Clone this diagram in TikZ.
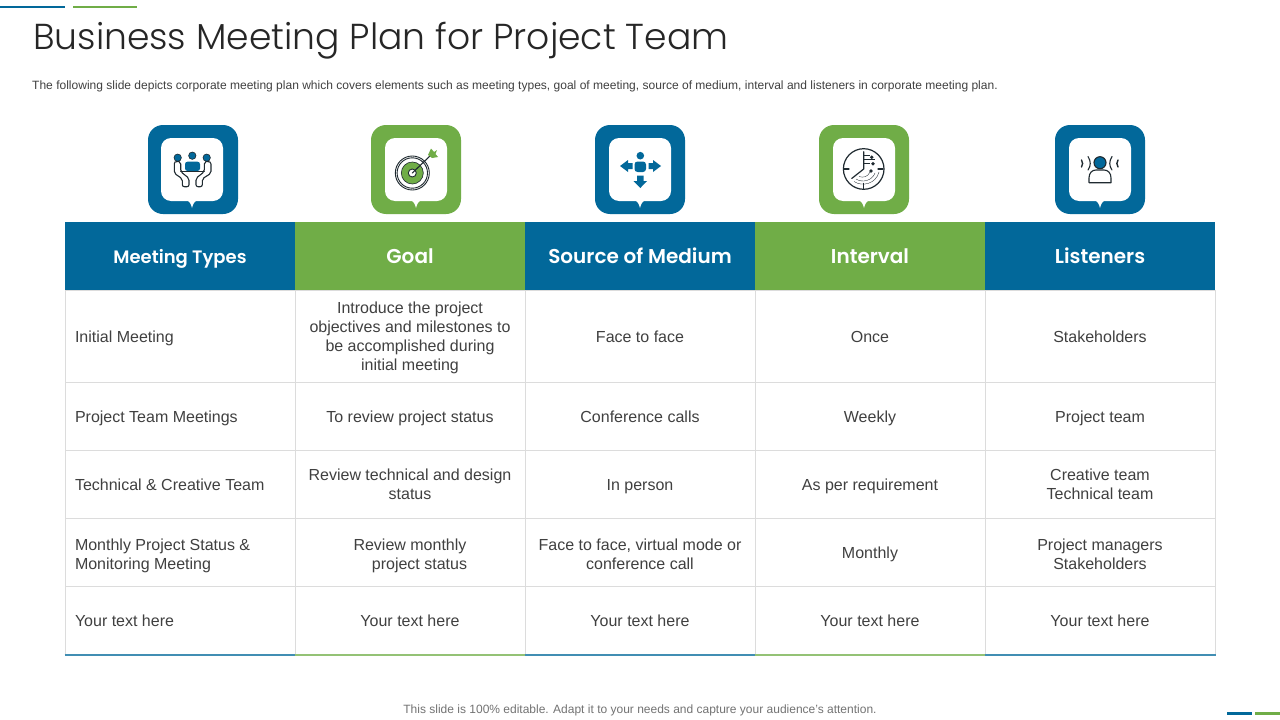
\documentclass[tikz,border=0pt]{standalone}
\usepackage{fontspec}
\setmainfont{Liberation Sans}
\newfontfamily\titlefont[UprightFont=* Light,Ligatures=NoCommon]{Poppins}
\newfontfamily\headfont[UprightFont=* SemiBold,Ligatures=NoCommon]{Poppins}
\definecolor{pblue}{HTML}{02689A}
\definecolor{pgreen}{HTML}{70AD47}
\definecolor{txt}{HTML}{404040}
\definecolor{gridc}{HTML}{DCDCDC}
\definecolor{ink}{HTML}{1F2A30}
\tikzset{
  x=1pt,y=-1pt,
  cellbase/.style={draw=gridc,line width=1pt,minimum width=230pt,inner sep=0pt,text=txt,text width=228pt,align=flush center,font=\fontsize{16}{19}\selectfont,execute at end node=\strut},
  cell/.style={cellbase,execute at begin node={\rule[-5.7pt]{0pt}{23pt}}},
  cellm/.style={cellbase,execute at begin node={\rule[-5.7pt]{0pt}{25.5pt}}},
  rowa/.style={cell,minimum height=92pt},
  rowb/.style={cell,minimum height=68pt},
  rowd/.style={cellm,minimum height=68pt},
  lefttext/.style={text width=210pt,align=flush left},
  headcell/.style={minimum width=230pt,minimum height=68pt,inner sep=0pt,text=white,text height=17.5pt,text depth=2.5pt,font=\headfont\fontsize{20}{24}\selectfont},
  hblue/.style={headcell,fill=pblue},
  hgreen/.style={headcell,fill=pgreen},
  iconline/.style={draw=ink,line width=1.1pt,line join=round,line cap=round},
  thinline/.style={draw=ink,line width=.6pt},
}
\newcommand{\bubble}[3]{%
  \fill[#3,rounded corners=15pt] (#1-45,125) rectangle (#1+45,214);
  \fill[white,rounded corners=10pt] (#2-31,138) rectangle (#2+31,201);
  \fill[white] (#2-5,200) .. controls (#2-2.5,201) and (#2-1,204) .. (#2,208) .. controls (#2+1,204) and (#2+2.5,201) .. (#2+5,200) -- cycle;
}
\begin{document}
\begin{tikzpicture}
\useasboundingbox[fill=white] (0,0) rectangle (1280,720);
% accent bars
\fill[pblue] (0,6) rectangle (65,8);
\fill[pgreen] (73,6) rectangle (137,8);
\fill[pblue] (1227,712) rectangle (1252,715);
\fill[pgreen] (1255,712) rectangle (1280,715);
% title
\node[anchor=west,inner sep=0pt,text=black!85] (title) at (33,41) {\titlefont\fontsize{36.1}{44}\selectfont Business Meeting Plan for Project Team};
\node[anchor=west,inner sep=0pt,text=txt] (sub) at (32,86) {\fontsize{12.03}{14}\selectfont The following slide depicts corporate meeting plan which covers elements such as meeting types, goal of meeting, source of medium, interval and listeners in corporate meeting plan.};
% bubbles
\bubble{193}{192}{pblue}
\bubble{416}{416}{pgreen}
\bubble{640}{640}{pblue}
\bubble{864}{864}{pgreen}
\bubble{1100}{1100}{pblue}
% icon 1: meeting
\fill[pblue] (177.7,157.7) circle (3.7) (192.3,155.7) circle (3.7) (206.7,157.7) circle (3.7);
\draw[thinline] (177.7,157.7) circle (3.7) (192.3,155.7) circle (3.7) (206.7,157.7) circle (3.7);
\fill[pblue,rounded corners=2.5pt] (185,171) -- (185,161.7) -- (200,161.7) -- (200,171) -- cycle;
\draw[iconline] (180.7,171.5) -- (204.3,171.5);
\draw[iconline,rounded corners=2pt] (180.7,166) .. controls (180.7,163) and (178,161.5) .. (177,161.7) .. controls (175,162) and (174.3,164) .. (174.3,166) -- (174.3,173.3) -- (182.3,178.8) -- (182.3,186.7) -- (189,186.7) -- (189,178.3) -- (180.7,171.7) -- cycle;
\draw[iconline,rounded corners=2pt] (204.3,166) .. controls (204.3,163) and (207,161.5) .. (208,161.7) .. controls (210,162) and (211,164) .. (211,166) -- (211,173.3) -- (202.3,178.8) -- (202.3,186.7) -- (196,186.7) -- (196,178.3) -- (204.3,171.7) -- cycle;
% icon 2: target
\draw[thinline,line width=.9pt] (412.3,173) circle (17) (412.3,173) circle (15.2);
\fill[pgreen] (412.3,173) circle (11);
\draw[thinline] (412.3,173) circle (11);
\fill[white] (412.3,173) circle (4);
\draw[thinline,line width=.9pt] (412.3,173) circle (4);
\draw[iconline] (412.3,173) -- (431,155);
\fill[pgreen] (428,155) -- (431,148.5) -- (434,152) -- (437,150) -- (435.5,154) -- (438,157) -- (432,158) -- cycle;
% icon 3: directions
\fill[pblue] (640.3,155.7) circle (3.8);
\fill[pblue,rounded corners=3pt] (634.5,172) -- (634.5,161.5) -- (646,161.5) -- (646,172) -- cycle;
\fill[pblue] (620,166) -- (628,160) -- (628,163) -- (632.5,163) -- (632.5,169) -- (628,169) -- (628,172) -- cycle;
\fill[pblue] (661,166) -- (653,160) -- (653,163) -- (648.5,163) -- (648.5,169) -- (653,169) -- (653,172) -- cycle;
\fill[pblue] (640.3,188) -- (633.5,181) -- (637,181) -- (637,175.5) -- (643.6,175.5) -- (643.6,181) -- (647,181) -- cycle;
% icon 4: radar clock
\draw[iconline,line width=1.2pt] (863.7,169) circle (20.3);
\draw[iconline,line width=1.2pt] (863.7,151.7) -- (863.7,169) -- (851.7,178.5);
\draw[iconline] (844,169) -- (849,169) (878,169) -- (883,169) (863.7,183.5) -- (863.7,188.5);
\draw[thinline,line width=.35pt] (864,155.5) -- (870,155.5) (864,159) -- (875,159) (864,163) -- (870,163);
\draw[thinline,line width=.35pt] (856,179) .. controls (862,183) and (872,181) .. (875,173);
\draw[thinline,line width=.35pt] (854,181.5) .. controls (862,187) and (876,184) .. (879,172);
\draw[thinline,line width=.35pt] (859,176.5) .. controls (863,178) and (868,177) .. (870,172);
\fill[ink] (871.7,157.3) circle (1.9) (873,163.7) circle (1.9) (871,171) circle (1.9);
% icon 5: listener
\draw[iconline] (1089,182.7) -- (1089,178) .. controls (1089,173) and (1092,170) .. (1096,170) -- (1104,170) .. controls (1108,170) and (1111,173) .. (1111,178) -- (1111,182.7) -- cycle;
\fill[pblue] (1100,162.7) circle (6);
\draw[iconline] (1100,162.7) circle (6);
\draw[iconline] (1088,156.5) .. controls (1091,161) and (1091,166) .. (1088,170);
\draw[iconline] (1112,156.5) .. controls (1109,161) and (1109,166) .. (1112,170);
\draw[iconline,line width=1.4pt] (1081.5,160) .. controls (1083,162.5) and (1083,164.5) .. (1081.5,167);
\draw[iconline,line width=1.4pt] (1118,160) .. controls (1116.5,162.5) and (1116.5,164.5) .. (1118,167);
% header
\node[hblue] (h1) at (180,256) {\fontsize{18}{22}\selectfont Meeting Types};
\node[hgreen] (h2) at (410,256) {Goal};
\node[hblue] (h3) at (640,256) {Source of Medium};
\node[hgreen] (h4) at (870,256) {Interval};
\node[hblue] (h5) at (1100,256) {Listeners};
% row 1
\node[rowa,lefttext] (c11) at (180,336.5) {Initial Meeting};
\node[rowa] (c12) at (410,336.5) {Introduce the project\\objectives and milestones to\\be accomplished during\\initial meeting};
\node[rowa] (c13) at (640,336.5) {Face to face};
\node[rowa] (c14) at (870,336.5) {Once};
\node[rowa] (c15) at (1100,336.5) {Stakeholders};
% row 2
\node[rowb,lefttext] (c21) at (180,416.5) {Project Team Meetings};
\node[rowb] (c22) at (410,416.5) {To review project status};
\node[rowb] (c23) at (640,416.5) {Conference calls};
\node[rowb] (c24) at (870,416.5) {Weekly};
\node[rowb] (c25) at (1100,416.5) {Project team};
% row 3
\node[rowb,lefttext] (c31) at (180,484.5) {Technical \& Creative Team};
\node[rowb] (c32) at (410,484.5) {Review technical and design\\status};
\node[rowb] (c33) at (640,484.5) {In person};
\node[rowb] (c34) at (870,484.5) {As per requirement};
\node[rowb] (c35) at (1100,484.5) {Creative team\\Technical team};
% row 4
\node[rowd,lefttext] (c41) at (180,552.5) {Monthly Project Status \&\\Monitoring Meeting};
\node[rowd] (c42) at (410,552.5) {Review monthly\\\hspace*{19pt}project status};
\node[rowd] (c43) at (640,552.5) {Face to face, virtual mode or\\conference call};
\node[rowb] (c44) at (870,552.5) {Monthly};
\node[rowd] (c45) at (1100,552.5) {Project managers\\Stakeholders};
% row 5
\node[rowb,lefttext] (c51) at (180,620.5) {Your text here};
\node[rowb] (c52) at (410,620.5) {Your text here};
\node[rowb] (c53) at (640,620.5) {Your text here};
\node[rowb] (c54) at (870,620.5) {Your text here};
\node[rowb] (c55) at (1100,620.5) {Your text here};
% bottom colored rule
\draw[pblue!75,line width=1.2pt] (c51.south west) -- (c51.south east);
\draw[pgreen!75,line width=1.2pt] (c52.south west) -- (c52.south east);
\draw[pblue!75,line width=1.2pt] (c53.south west) -- (c53.south east);
\draw[pgreen!75,line width=1.2pt] (c54.south west) -- (c54.south east);
\draw[pblue!75,line width=1.2pt] (c55.south west) -- (c55.south east);
% footer
\node[inner sep=0pt,text=black!55] (foot) at (640,710) {\fontsize{12}{14}\selectfont This slide is 100\% editable. Adapt it to your needs and capture your audience's attention.};
\end{tikzpicture}
\end{document}
